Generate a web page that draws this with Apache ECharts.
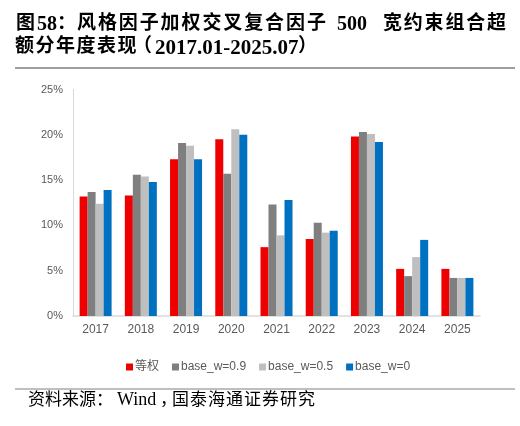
<!DOCTYPE html>
<html>
<head>
<meta charset="utf-8">
<script src="https://cdn.jsdelivr.net/npm/echarts@6/dist/echarts.min.js"></script>
<style>
html, body { margin: 0; padding: 0; background: #fff; }
#main { width: 520px; height: 426px; }
</style>
</head>
<body>
<div id="main"></div>
<script>
// 年份
var years = ['2017', '2018', '2019', '2020', '2021', '2022', '2023', '2024', '2025'];
// 各组合年度超额（%）
var equalW = [13.2, 13.3, 17.3, 19.5, 7.6, 8.5, 19.8, 5.2, 5.2];
var base09 = [13.7, 15.6, 19.1, 15.7, 12.3, 10.3, 20.3, 4.4, 4.2];
var base05 = [12.4, 15.4, 18.8, 20.6, 8.9, 9.2, 20.1, 6.5, 4.2];
var base00 = [13.9, 14.8, 17.3, 20.0, 12.8, 9.4, 19.2, 8.4, 4.2];
var seriesNames = ['等权', 'base_w=0.9', 'base_w=0.5', 'base_w=0'];
var seriesColors = ['#ee0000', '#7f7f7f', '#bfbfbf', '#0070c0'];

var chart = echarts.init(document.getElementById('main'), null, { renderer: 'canvas' });

var allData = [equalW, base09, base05, base00];
var series = [];
for (var i = 0; i < allData.length; i++) {
	series.push({
		name: seriesNames[i],
		type: 'bar',
		barWidth: 8,
		barGap: '0%',
		itemStyle: { color: seriesColors[i] },
		data: allData[i]
	});
}

var serif = '"Liberation Serif", "Times New Roman", "Noto Sans CJK SC", serif';
var graphics = [];
// 逐字排版（模拟字间距）
function putChars(str, x, y, pitch, font) {
	for (var k = 0; k < str.length; k++) {
		graphics.push({
			type: 'text', left: x + k * pitch, top: y,
			style: { text: str.charAt(k), fill: '#000', font: font }
		});
	}
}
function putText(str, x, y, font) {
	graphics.push({
		type: 'text', left: x, top: y,
		style: { text: str, fill: '#000', font: font }
	});
}
var tCjk = 'bold 19px ' + serif;
var tNum = 'bold 20px ' + serif;
// 标题第一行
putChars('图', 16, 15, 20.7, tCjk);
putText('58', 37, 15, tNum);
putChars('：', 57, 15, 19, tCjk);
putChars('风格因子加权交叉复合因子', 77, 15, 20.9, tCjk);
putText('500', 337, 15, tNum);
putChars('宽约束组合超', 383, 15, 20.8, tCjk);
// 标题第二行
putChars('额分年度表现', 15, 38, 20.5, tCjk);
putChars('（', 133, 38, 19, tCjk);
putText('2017.01-2025.07', 155, 38, 'bold 21px ' + serif);
putChars('）', 298, 38, 19, tCjk);
// 资料来源
putChars('资料来源：', 28, 392, 17, '17px ' + serif);
putText('Wind', 117, 391, '18px ' + serif);
putChars('，', 160, 392, 17, '17px ' + serif);
putChars('国泰海通证券研究', 172, 392, 18, '17px ' + serif);

graphics.push({
	type: 'line', shape: { x1: 15, y1: 68, x2: 515, y2: 68 },
	style: { stroke: '#7f7f7f', lineWidth: 1.5 }
});
graphics.push({
	type: 'line', shape: { x1: 15, y1: 389, x2: 515, y2: 389 },
	style: { stroke: '#7f7f7f', lineWidth: 1 }
});

var option = {
	backgroundColor: '#fff',
	animation: false,
	color: seriesColors,
	grid: { left: 73, right: 40, top: 89.5, bottom: 110 },
	legend: {
		top: 356,
		left: 121,
		icon: 'rect',
		itemWidth: 7,
		itemHeight: 7,
		itemGap: 13,
		textStyle: { color: '#595959', fontSize: 12, padding: [0, 0, 0, -3], fontFamily: 'Arial, "Liberation Sans", "Noto Sans CJK SC"' },
		data: seriesNames
	},
	xAxis: {
		type: 'category',
		data: years,
		axisLine: { lineStyle: { color: '#d9d9d9', width: 1.5 } },
		axisTick: { show: false },
		axisLabel: { color: '#595959', fontSize: 12, margin: 8, fontFamily: 'Arial, "Liberation Sans"' }
	},
	yAxis: {
		type: 'value',
		min: 0,
		max: 25,
		interval: 5,
		axisLine: { show: true, lineStyle: { color: '#d9d9d9' } },
		axisTick: { show: false },
		splitLine: { show: false },
		axisLabel: { color: '#595959', fontSize: 11, margin: 10, formatter: '{value}%', fontFamily: 'Arial, "Liberation Sans"' }
	},
	series: series,
	graphic: graphics
};
chart.setOption(option);
</script>
</body>
</html>
